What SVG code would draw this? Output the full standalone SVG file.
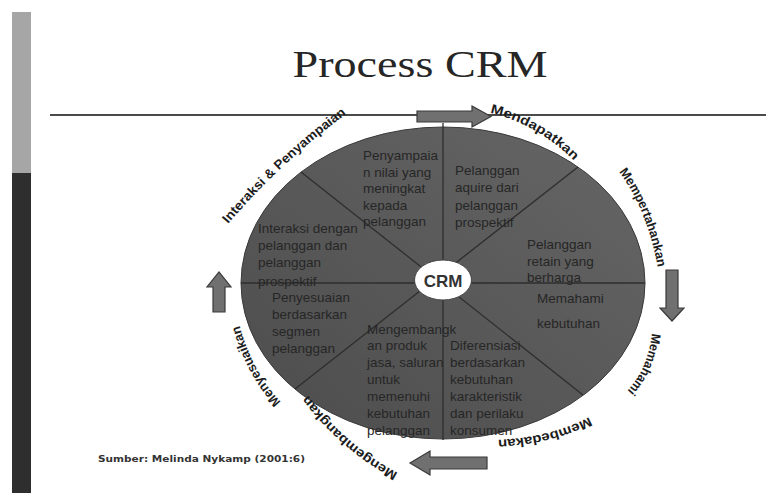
<svg xmlns="http://www.w3.org/2000/svg" width="766" height="493" viewBox="0 0 766 493">
<style>
.title{font-family:"Liberation Serif","Times New Roman",serif;font-size:37px;fill:#262626}
.in{font-family:"Liberation Sans",Arial,sans-serif;font-size:13.5px;fill:#262626}
.lbl{font-family:"Liberation Sans Narrow","Liberation Sans",Arial,sans-serif;font-size:13px;font-weight:bold;fill:#1c1c1c}
.arrow{fill:#707070;stroke:#3a3a3a;stroke-width:1.2}
.sec{stroke:#2e2e2e;stroke-width:1.3;fill:none}
.src{font-family:"DejaVu Sans",Verdana,sans-serif;font-size:9.5px;font-weight:bold;fill:#333}
</style>
<defs>
<linearGradient id="eg" x1="0" y1="1" x2="1" y2="0">
<stop offset="0" stop-color="#4c4c4c"/>
<stop offset="1" stop-color="#666"/>
</linearGradient>
<path id="p1" d="M 228 224 Q 282 161 349 112"/>
<path id="p2" d="M 490 113 Q 540 124 580 167"/>
<path id="p3" d="M 619 172 Q 648 210 659 274"/>
<path id="p4" d="M 652 333 Q 648 370 625 393"/>
<path id="p5" d="M 589 417 Q 550 438 495 440"/>
<path id="p6" d="M 398 473 Q 345 445 307 394"/>
<path id="p7" d="M 281 402 Q 252 372 239 323"/>
</defs>
<rect width="766" height="493" fill="#fff"/>
<g id="sidebar">
<rect x="12" y="12" width="19" height="161" fill="#a6a6a6"/>
<rect x="12" y="173" width="19" height="320" fill="#2e2e2e"/>
</g>
<text class="title" x="420" y="77" text-anchor="middle" textLength="255" lengthAdjust="spacingAndGlyphs">Process CRM</text>
<line x1="50" y1="115" x2="766" y2="115" stroke="#4a4a4a" stroke-width="2"/>
<g id="crm-ellipse">
<ellipse cx="443" cy="283" rx="202" ry="156" fill="url(#eg)" stroke="#3a3a3a" stroke-width="1"/>
</g>
<g id="connectors">
<line class="sec" x1="443" y1="123" x2="443" y2="440"/>
<line class="sec" x1="241" y1="283" x2="645" y2="283"/>
<line class="sec" x1="301" y1="172" x2="583" y2="395"/>
<line class="sec" x1="578" y1="167" x2="295" y2="389"/>
<polygon id="arrow-top" class="arrow" points="417,111 472,111 472,106 491,116.5 472,127 472,122 417,122"/>
<polygon id="arrow-right" class="arrow" points="666,270 678,270 678,308 684,308 672,321 660,308 666,308"/>
<polygon id="arrow-bottom" class="arrow" points="487,457 430,457 430,451 410,463 430,475 430,469 487,469"/>
<polygon id="arrow-left" class="arrow" points="213,312 213,287 207,287 219,272 231,287 225,287 225,312"/>
</g>
<g id="crm-center">
<ellipse cx="443" cy="280" rx="28.5" ry="20" fill="#fff" stroke="#444" stroke-width="1"/>
<text x="443" y="286.5" text-anchor="middle" font-family="Liberation Sans,Arial,sans-serif" font-size="17" font-weight="bold" fill="#333">CRM</text>
</g>
<g id="sector-top-left">
<text class="in" x="363" y="160">Penyampaia</text>
<text class="in" x="363" y="177">n nilai yang</text>
<text class="in" x="363" y="193">meningkat</text>
<text class="in" x="363" y="210">kepada</text>
<text class="in" x="363" y="226">pelanggan</text>
</g>
<g id="sector-top-right">
<text class="in" x="455" y="175">Pelanggan</text>
<text class="in" x="455" y="192">aquire dari</text>
<text class="in" x="455" y="210">pelanggan</text>
<text class="in" x="455" y="227">prospektif</text>
</g>
<g id="sector-right-upper">
<text class="in" x="527" y="249">Pelanggan</text>
<text class="in" x="527" y="266">retain yang</text>
<text class="in" x="527" y="282">berharga</text>
</g>
<g id="sector-right-lower">
<text class="in" x="537" y="303">Memahami</text>
<text class="in" x="537" y="328">kebutuhan</text>
</g>
<g id="sector-bottom-right">
<text class="in" x="450" y="350">Diferensiasi</text>
<text class="in" x="450" y="367">berdasarkan</text>
<text class="in" x="450" y="384">kebutuhan</text>
<text class="in" x="450" y="401">karakteristik</text>
<text class="in" x="450" y="418">dan perilaku</text>
<text class="in" x="450" y="435">konsumen</text>
</g>
<g id="sector-bottom-left">
<text class="in" x="367" y="334">Mengembangk</text>
<text class="in" x="367" y="350">an produk</text>
<text class="in" x="367" y="367">jasa, saluran</text>
<text class="in" x="367" y="384">untuk</text>
<text class="in" x="367" y="401">memenuhi</text>
<text class="in" x="367" y="418">kebutuhan</text>
<text class="in" x="367" y="435">pelanggan</text>
</g>
<g id="sector-left-lower">
<text class="in" x="272" y="302">Penyesuaian</text>
<text class="in" x="272" y="319">berdasarkan</text>
<text class="in" x="272" y="336">segmen</text>
<text class="in" x="272" y="353">pelanggan</text>
</g>
<g id="sector-left-upper">
<text class="in" x="258" y="233">Interaksi dengan</text>
<text class="in" x="258" y="250">pelanggan dan</text>
<text class="in" x="258" y="267">pelanggan</text>
<text class="in" x="258" y="286">prospektif</text>
</g>
<g id="labels">
<text class="lbl"><textPath href="#p1" textLength="162" lengthAdjust="spacingAndGlyphs">Interaksi &amp; Penyampaian</textPath></text>
<text class="lbl"><textPath href="#p2" textLength="98" lengthAdjust="spacingAndGlyphs">Mendapatkan</textPath></text>
<text class="lbl"><textPath href="#p3" textLength="104" lengthAdjust="spacingAndGlyphs">Mempertahankan</textPath></text>
<text class="lbl"><textPath href="#p4" textLength="64" lengthAdjust="spacingAndGlyphs">Memahami</textPath></text>
<text class="lbl"><textPath href="#p5" textLength="95" lengthAdjust="spacingAndGlyphs">Membedakan</textPath></text>
<text class="lbl"><textPath href="#p6" textLength="120" lengthAdjust="spacingAndGlyphs">Mengembangkan</textPath></text>
<text class="lbl"><textPath href="#p7" textLength="88" lengthAdjust="spacingAndGlyphs">Menyesuaikan</textPath></text>
</g>
<text class="src" x="98" y="462" textLength="207" lengthAdjust="spacingAndGlyphs">Sumber: Melinda Nykamp (2001:6)</text>
</svg>
